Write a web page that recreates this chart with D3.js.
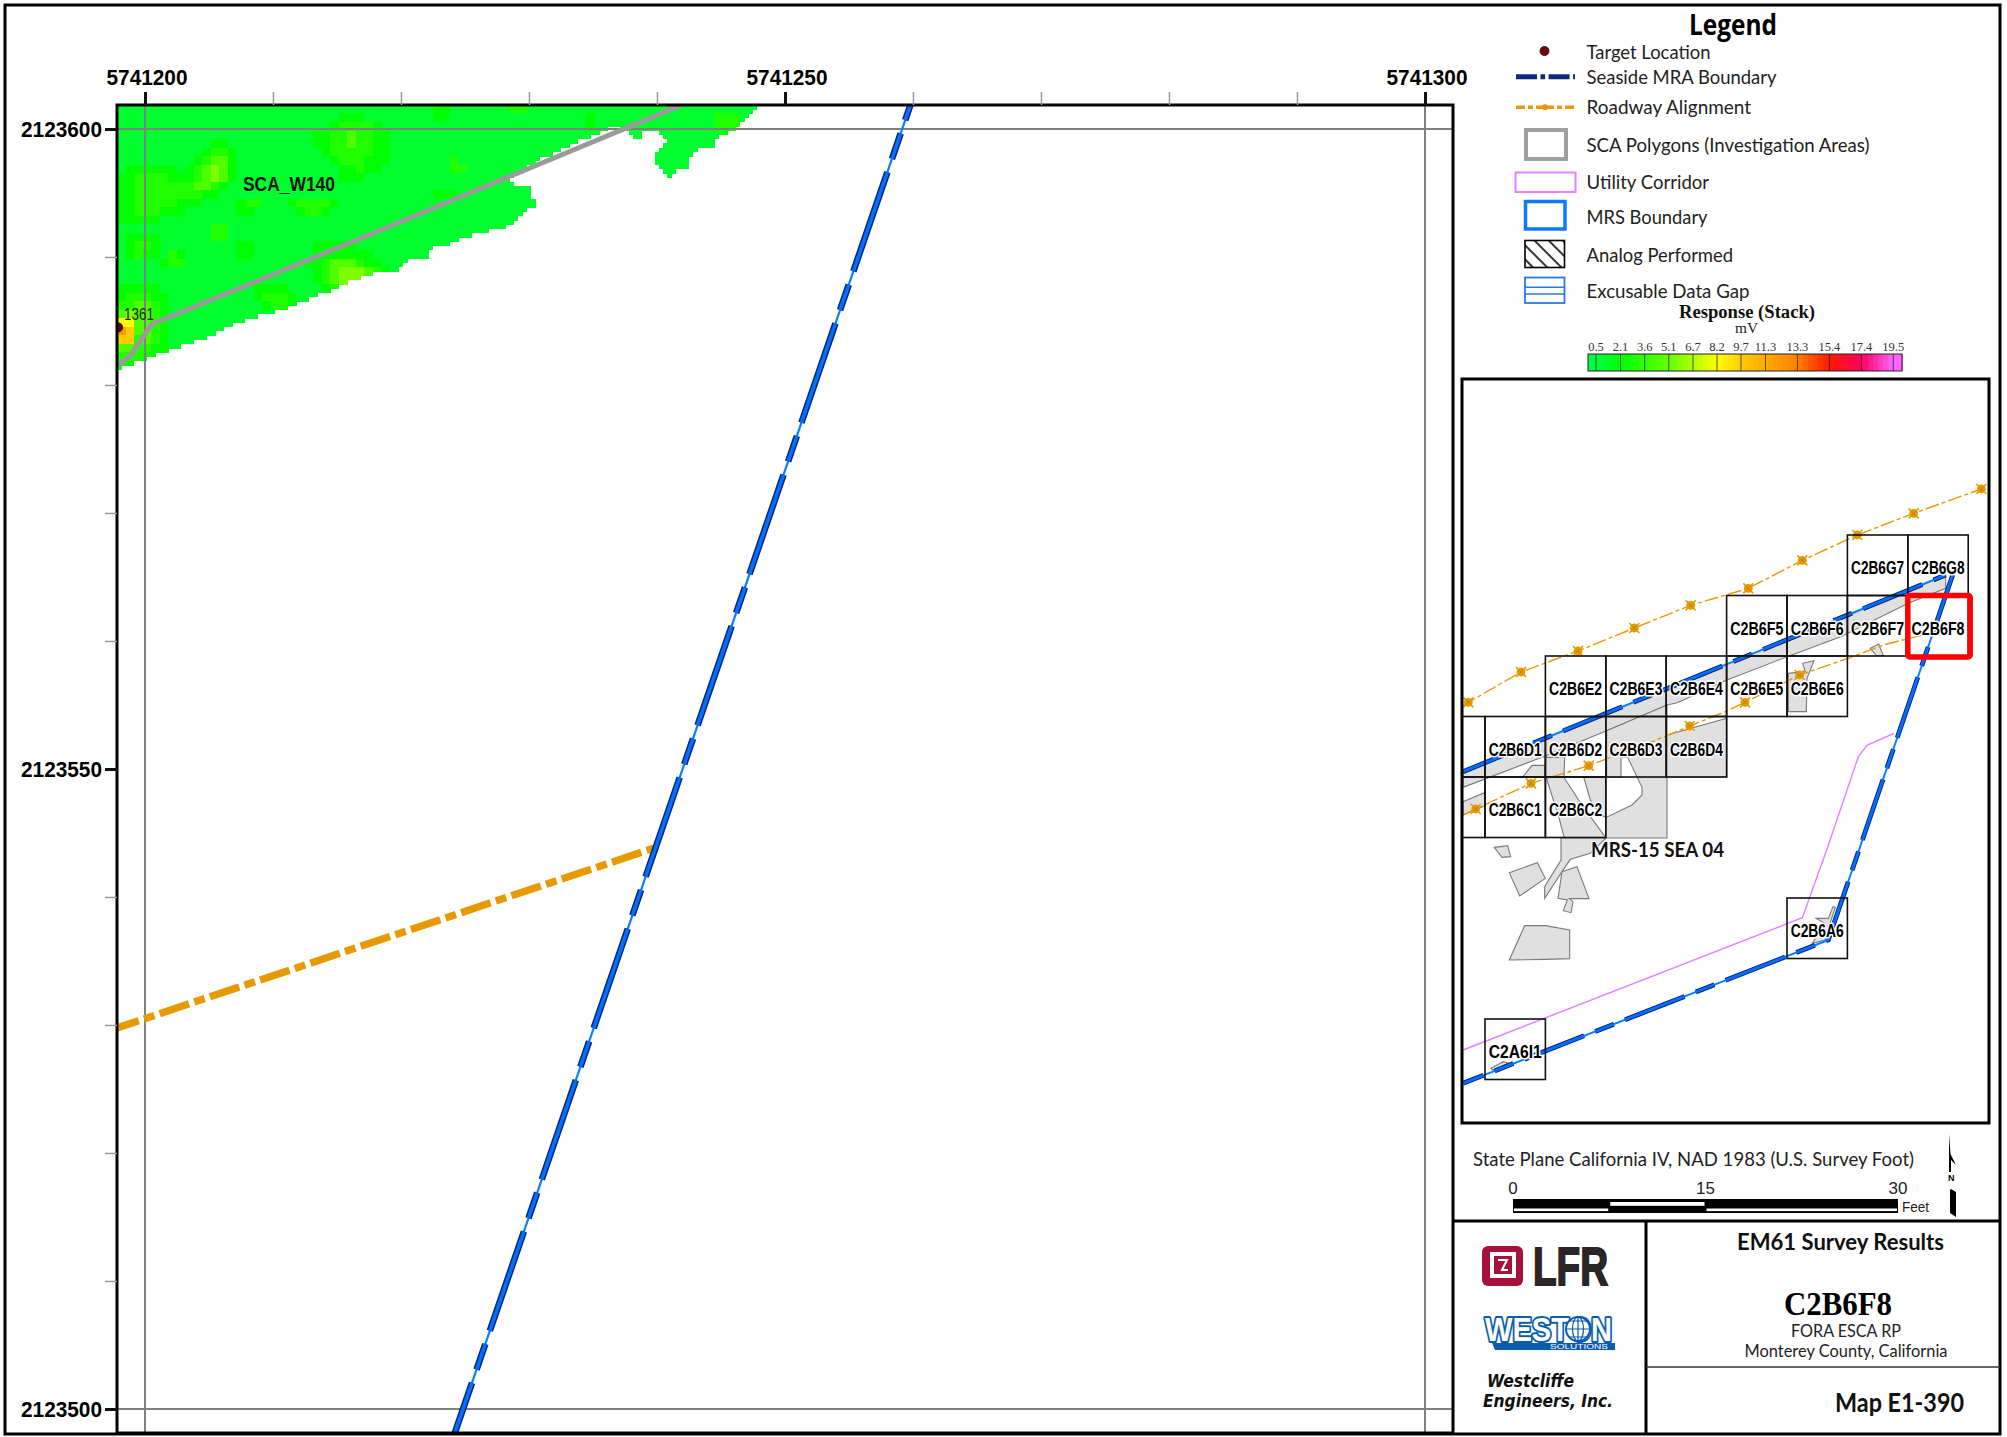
<!DOCTYPE html>
<html>
<head>
<meta charset="utf-8">
<title>Map E1-390</title>
<script src="https://cdn.jsdelivr.net/npm/d3@7"></script>
<style>
  html, body { margin: 0; background: #fff; }
  svg { display: block; }
</style>
</head>
<body>
<div id="map"></div>
<script>
// Main map coordinates: feet, as offsets from these two origins
const EAST0 = 5741200;
const NORTH0 = 2123500;

const eastMajor = [5741200, 5741250, 5741300];
const eastMinor = [5741210, 5741220, 5741230, 5741240, 5741260, 5741270, 5741280, 5741290];
const northMajor = [2123500, 2123550, 2123600];
const northMinor = [2123510, 2123520, 2123530, 2123540, 2123560, 2123570, 2123580, 2123590];

// Surveyed area outline (east, north offsets)
const coverage = [[-2.19,101.88],[47.81,101.88],[46.25,100.16],[45.55,99.69],[44.53,99.14],[44.38,98.52],[43.36,98.44],[42.58,97.73],[42.34,96.95],[41.25,96.64],[40.86,96.25],[40.39,96.8],[39.69,97.42],[39.69,97.97],[40.78,98.91],[40.08,99.84],[38.91,99.92],[38.91,99.14],[38.13,99.14],[37.73,99.92],[36.48,100.23],[35.55,99.69],[33.44,98.91],[30.86,97.66],[28.28,96.02],[29.3,95.55],[30.16,95.47],[30.16,94.69],[30.47,94.69],[30.47,94.06],[29.84,93.67],[29.3,93.05],[27.97,92.27],[26.02,91.88],[23.83,91.09],[22.42,90.7],[22.03,90],[20.47,89.92],[19.92,88.98],[18.2,88.83],[15.86,88.05],[14.3,87.34],[12.5,86.64],[10.7,85.86],[8.2,85.23],[6.25,84.53],[4.84,83.75],[2.58,82.97],[1.17,82.58],[0.78,82.19],[-0.63,81.8],[-1.41,81.56],[-2.11,81.25],[-2.19,81.25]];

// Response, one digit per 2/3 ft cell, north to south.
// Rows stop at the last non-background cell.
const responseRows = [
  "000000000000000000000000000000000000011000000022000000000000000000000000000111",
  "0000000000000000000000000011100000000110000000000000000100000000000000222",
  "0000000000000000000000000122221000000000000000000000000100000000000000222",
  "00000000000000000000000112232211000000000000000000000000000000000000000111",
  "00000000000110000000000112232211",
  "00000000001221000000000012222211",
  "0000000001233100000000000122211100000002",
  "01111110123431000000000000112110000000022",
  "11222211123431000000000000111",
  "1122222223321",
  "1122222222110000000000000000000000000111",
  "11222221110000122000122221",
  "1122211100000011000001221",
  "11111",
  "0000000000022",
  "0111100000022",
  "0122100000000011000000011111",
  "012110210000001100000001111111",
  "0000012200000000000000112333211",
  "00000000000000000000000123444321",
  "00000000000000000000000123444321",
  "11111000000000001111000012344321",
  "1222110000000000122210000012321",
  "223321000000000001221",
  "343321",
  "663321",
  "873321",
  "772321",
  "332211",
  "22211",
  "11"
];
const responseLevels = [1.0, 2.1, 3.0, 4.4, 5.6, 6.7, 8.2, 9.7, 12.0, 13.3];

// Colour key
const legendValues = [0.5, 2.1, 3.6, 5.1, 6.7, 8.2, 9.7, 11.3, 13.3, 15.4, 17.4, 19.5];
const legendLabels = ["0.5", "2.1", "3.6", "5.1", "6.7", "8.2", "9.7", "11.3", "13.3", "15.4", "17.4", "19.5"];
const legendColors = ["#00ff44", "#00ff00", "#33ff00", "#66ff00", "#b0ff00", "#ffff00", "#ffcc00", "#ffaa00", "#ff8000", "#ff1800", "#ff0060", "#ff66ff"];

const scaPolygon = [[41.93,101.88],[19.92,92.73],[9.53,88.44],[0.55,84.77],[-1.17,82.27],[-2.19,81.48]];
const mrsBoundary = [[59.8,101.88],[24.2,-1.88]];
const roadway = [[-2.19,29.77],[39.8,43.83]];
const target = { east: -2.1, north: 84.5, id: "1361" };

// Inset: tiles by column and row, other features in sheet units (1/3 of a picture pixel)
const tiles = [
  ["C2B6G7",6,0],["C2B6G8",7,0],
  ["C2B6F5",4,1],["C2B6F6",5,1],["C2B6F7",6,1],["C2B6F8",7,1],
  ["C2B6E2",1,2],["C2B6E3",2,2],["C2B6E4",3,2],["C2B6E5",4,2],["C2B6E6",5,2],
  ["",-1,3],["C2B6D1",0,3],["C2B6D2",1,3],["C2B6D3",2,3],["C2B6D4",3,3],
  ["",-1,4],["C2B6C1",0,4],["C2B6C2",1,4],
  ["C2B6A6",5,6],["C2A6I1",0,8]
];
const activeTile = "C2B6F8";
const grayAreas = [
  [[3,215],[1451,-375],[1451,-335],[1339,-290],[1136,-190],[976,-130],[795,-60],[646,8],[615,15],[434,92],[250,168],[3,262]],
  [[3,305],[68,278],[68,318],[3,345]],
  [[182,231],[210,196],[248,196],[248,231]],
  [[250,172],[308,172],[306,231],[250,231]],
  [[252,231],[305,231],[350,300],[385,350],[432,414],[307,414],[290,350]],
  [[365,231],[433,231],[433,352],[415,345],[385,300]],
  [[434,92],[615,15],[615,414],[433,414],[433,352],[510,315],[540,285],[540,262],[497,172],[477,172],[477,231],[434,231]],
  [[615,105],[795,55],[795,231],[615,231]],
  [[297,414],[432,414],[385,460],[325,478],[300,515],[248,595],[248,560],[297,480]],
  [[97,442],[137,437],[146,470],[120,472]],
  [[142,518],[226,488],[250,535],[173,588]],
  [[300,515],[345,500],[381,596],[322,596],[333,605],[327,638],[304,632],[316,600],[288,595]],
  [[188,677],[250,677],[323,690],[323,776],[250,778],[142,780]],
  [[979,-80],[1030,-85],[1022,-110],[1056,-118],[1035,-65],[1033,35],[979,35]],
  [[1225,-155],[1250,-168],[1264,-133],[1243,-133]],
  [[1062,655],[1099,655],[1113,620],[1120,622],[1104,670],[1099,718],[1051,730],[1088,670]],
  [[87,1105],[124,1085],[140,1090],[92,1110]]
];
const insetBoundaryNorth = [[3,215],[1451,-375]];
const insetBoundarySouth = [[1472,-375],[1099,720],[3,1150]];
const utilityCorridor = [[3,1050],[1021,653],[1094,450],[1189,170],[1216,135],[1296,100]];
const roadNorth = [[3,17],[19,7],[177,-84],[348,-147],[517,-216],[686,-284],[859,-335],[1021,-419],[1186,-495],[1355,-560],[1558,-633]];
const roadSouth = [[3,345],[41,327],[207,250],[380,197],[571,125],[683,78],[790,35],[849,7],[1013,-75],[1158,-125],[1264,-165],[1381,-195]];
const roadNorthMarkers = [[19,7],[177,-84],[348,-147],[517,-216],[686,-284],[859,-335],[1021,-419],[1186,-495],[1355,-560],[1558,-633]];
const roadSouthMarkers = [[41,327],[207,250],[380,197],[683,78],[849,7],[1013,-75]];

// Scale bar
const barBreaks = [0, 7.5, 15, 30];
const barLabels = [0, 15, 30];

const SANS = "'Liberation Sans', Arial, sans-serif";
const SERIF = "'Liberation Serif', 'Times New Roman', serif";
const HUMAN = "Lato, 'Open Sans', sans-serif";

const svg = d3.select("#map").append("svg").attr("width", 2007).attr("height", 1437);
const defs = svg.append("defs");

// scales of the main map
const x = d3.scaleLinear().domain([5741197.8125, 5741302.1875]).range([117, 1453]);
const y = d3.scaleLinear().domain([2123498.125, 2123601.875]).range([1433, 105]);
const ex = (e) => x(e + EAST0);
const ny = (n) => y(n + NORTH0);

defs.append("clipPath").attr("id", "map-clip")
  .append("rect").attr("x", 117).attr("y", 105).attr("width", 1336).attr("height", 1328);

const ramp = d3.scaleLinear().domain(legendValues).range(legendColors).clamp(true);

// helper for text that has to span a set width
function label(parent, str, px, py, opts) {
  const t = parent.append("text")
    .attr("x", px).attr("y", py)
    .attr("font-family", opts.family || HUMAN)
    .attr("font-size", opts.size)
    .attr("font-weight", opts.weight || "normal")
    .attr("font-style", opts.style || "normal")
    .attr("fill", opts.fill || "#1a1a1a")
    .text(str);
  if (opts.width) t.attr("textLength", opts.width).attr("lengthAdjust", "spacingAndGlyphs");
  if (opts.anchor) t.attr("text-anchor", opts.anchor);
  return t;
}

// ---- Main map ----
const mapClip = svg.append("g").attr("clip-path", "url(#map-clip)");

// raster: 1/3 ft cells inside the surveyed outline
const cell = 1 / 3;
const raster = mapClip.append("g").attr("shape-rendering", "crispEdges");
const cells = [];
for (let j = 0; j < 64; j++) {
  for (let i = 0; i < 152; i++) {
    const e = -2.19 + i * cell;
    const n = 101.88 - j * cell;
    if (!d3.polygonContains(coverage, [e + cell / 2, n - cell / 2])) continue;
    const row = responseRows[Math.floor(j / 2)] || "";
    const level = +(row[Math.floor(i / 2)] || 0);
    cells.push({ e, n, value: responseLevels[level] });
  }
}
raster.selectAll("rect").data(cells).join("rect")
  .attr("x", (d) => ex(d.e))
  .attr("y", (d) => ny(d.n))
  .attr("width", ex(cell) - ex(0) + 0.4)
  .attr("height", ny(0) - ny(cell) + 0.4)
  .attr("fill", (d) => ramp(d.value));

// target
mapClip.append("circle")
  .attr("cx", ex(target.east)).attr("cy", ny(target.north)).attr("r", 4.5)
  .attr("fill", "#7a0000").attr("stroke", "#111").attr("stroke-width", 1);

// grid lines through the labelled ticks
const gridG = mapClip.append("g").attr("stroke", "#808080").attr("stroke-width", 2);
gridG.selectAll("line.v").data([5741200, 5741300]).join("line").attr("class", "v")
  .attr("x1", (d) => x(d)).attr("x2", (d) => x(d)).attr("y1", 105).attr("y2", 1433);
gridG.selectAll("line.h").data([2123500, 2123600]).join("line").attr("class", "h")
  .attr("y1", (d) => y(d)).attr("y2", (d) => y(d)).attr("x1", 117).attr("x2", 1453);

const lineFeet = d3.line().x((d) => ex(d[0])).y((d) => ny(d[1]));

mapClip.append("path").attr("d", lineFeet(scaPolygon))
  .attr("fill", "none").attr("stroke", "#9a9a9a").attr("stroke-width", 5).attr("stroke-linejoin", "round");

mapClip.append("path").attr("d", lineFeet(roadway))
  .attr("fill", "none").attr("stroke", "#e69a00").attr("stroke-width", 7.4)
  .attr("stroke-dasharray", "31 5.5 11 5.5").attr("stroke-dashoffset", 8);

// boundary: thin MRS line under the dashed MRA line
mapClip.append("path").attr("d", lineFeet(mrsBoundary))
  .attr("fill", "none").attr("stroke", "#0a80ff").attr("stroke-width", 2.2);
mapClip.append("path").attr("d", lineFeet(mrsBoundary))
  .attr("fill", "none").attr("stroke", "#0a2478").attr("stroke-width", 6.6)
  .attr("stroke-dasharray", "105 14 27 14").attr("stroke-dashoffset", 89);
mapClip.append("path").attr("d", lineFeet(mrsBoundary))
  .attr("fill", "none").attr("stroke", "#0070ff").attr("stroke-width", 3.6)
  .attr("stroke-dasharray", "105 14 27 14").attr("stroke-dashoffset", 89);

label(svg, target.id, 124, 320, { family: SANS, size: 17, width: 30, fill: "#222" });
label(svg, "SCA_W140", 243, 191, { family: SANS, size: 21, weight: "bold", width: 92, fill: "#111" });

// frame
svg.append("rect").attr("x", 117).attr("y", 105).attr("width", 1336).attr("height", 1328)
  .attr("fill", "none").attr("stroke", "#000").attr("stroke-width", 3);

// axes
function styleTicks(g, stroke, width) {
  g.select(".domain").remove();
  g.selectAll(".tick line").attr("stroke", stroke).attr("stroke-width", width);
  g.selectAll(".tick text")
    .attr("font-family", SANS).attr("font-size", 22).attr("font-weight", "bold").attr("fill", "#000")
    .attr("textLength", 81).attr("lengthAdjust", "spacingAndGlyphs");
}
svg.append("g").attr("transform", "translate(0,105)")
  .call(d3.axisTop(x).tickValues(eastMinor).tickSize(13).tickFormat(""))
  .call((g) => styleTicks(g, "#999", 1.5));
svg.append("g").attr("transform", "translate(117,0)")
  .call(d3.axisLeft(y).tickValues(northMinor).tickSize(12).tickFormat(""))
  .call((g) => styleTicks(g, "#999", 1.5));
svg.append("g").attr("transform", "translate(0,105)")
  .call(d3.axisTop(x).tickValues(eastMajor).tickSize(13).tickPadding(7).tickFormat(d3.format("d")))
  .call((g) => styleTicks(g, "#111", 3))
  .call((g) => g.selectAll(".tick text").attr("dx", 1.5));
svg.append("g").attr("transform", "translate(117,0)")
  .call(d3.axisLeft(y).tickValues(northMajor).tickSize(12).tickPadding(3).tickFormat(d3.format("d")))
  .call((g) => styleTicks(g, "#111", 3));

// ---- Sheet frame and title block ----
const frame = svg.append("g").attr("fill", "none").attr("stroke", "#000");
frame.append("rect").attr("x", 5).attr("y", 5).attr("width", 1995).attr("height", 1429).attr("stroke-width", 3);
frame.append("line").attr("x1", 1453).attr("x2", 2000).attr("y1", 1221).attr("y2", 1221).attr("stroke-width", 3);
frame.append("line").attr("x1", 1646).attr("x2", 1646).attr("y1", 1221).attr("y2", 1433).attr("stroke-width", 3);
frame.append("line").attr("x1", 1646).attr("x2", 2000).attr("y1", 1367).attr("y2", 1367).attr("stroke-width", 1.5).attr("stroke", "#333");

// ---- Legend ----
const legend = svg.append("g");
label(legend, "Legend", 1689, 35, { family: "'Open Sans', sans-serif", size: 29, weight: "bold", width: 88, fill: "#000" });
const legendItems = [
  ["Target Location", 59.3, 124], ["Seaside MRA Boundary", 84, 190], ["Roadway Alignment", 114.3, 164.5],
  ["SCA Polygons (Investigation Areas)", 152.3, 283], ["Utility Corridor", 189.3, 122.6], ["MRS Boundary", 224, 121],
  ["Analog Performed", 262.3, 146.6], ["Excusable Data Gap", 298.3, 163]
];
legendItems.forEach((d) => label(legend, d[0], 1586.5, d[1], { size: 19, width: d[2], fill: "#222" }));

legend.append("circle").attr("cx", 1544.5).attr("cy", 51).attr("r", 4.5).attr("fill", "#7a0000").attr("stroke", "#222");
legend.append("line").attr("x1", 1516).attr("x2", 1575).attr("y1", 76.7).attr("y2", 76.7)
  .attr("stroke", "#0b2a80").attr("stroke-width", 5).attr("stroke-dasharray", "21 3.5 4.6 3.5");
legend.append("line").attr("x1", 1516).attr("x2", 1575).attr("y1", 107.3).attr("y2", 107.3)
  .attr("stroke", "#e69a00").attr("stroke-width", 3.6).attr("stroke-dasharray", "9 3 5 3 18 3 5 3 9");
legend.append("circle").attr("cx", 1545).attr("cy", 107.3).attr("r", 3).attr("fill", "#e69a00");
legend.append("rect").attr("x", 1526).attr("y", 130).attr("width", 40).attr("height", 29)
  .attr("fill", "#fff").attr("stroke", "#a0a0a0").attr("stroke-width", 4);
legend.append("rect").attr("x", 1515.5).attr("y", 172.5).attr("width", 60).attr("height", 19.5)
  .attr("fill", "#fff").attr("stroke", "#e680ff").attr("stroke-width", 2);
legend.append("rect").attr("x", 1525.5).attr("y", 201.5).attr("width", 39.5).attr("height", 27.5)
  .attr("fill", "#fff").attr("stroke", "#0a78ff").attr("stroke-width", 3.5);

const hatch = defs.append("pattern").attr("id", "hatch").attr("patternUnits", "userSpaceOnUse")
  .attr("width", 10).attr("height", 10).attr("patternTransform", "rotate(45)");
hatch.append("line").attr("x1", 0).attr("x2", 10).attr("y1", 5).attr("y2", 5).attr("stroke", "#000").attr("stroke-width", 1.6);
legend.append("rect").attr("x", 1525).attr("y", 240.5).attr("width", 39.5).attr("height", 27)
  .attr("fill", "url(#hatch)").attr("stroke", "#000").attr("stroke-width", 1.6);
legend.append("rect").attr("x", 1525).attr("y", 277.5).attr("width", 39.5).attr("height", 25.5)
  .attr("fill", "#fff").attr("stroke", "#2a78e8").attr("stroke-width", 1.8);
legend.selectAll("line.gap").data([287.3, 294]).join("line").attr("class", "gap")
  .attr("x1", 1525).attr("x2", 1564.5).attr("y1", (d) => d).attr("y2", (d) => d)
  .attr("stroke", "#2a78e8").attr("stroke-width", 1.6);

label(legend, "Response (Stack)", 1679, 318.3, { family: SERIF, size: 18, weight: "bold", width: 136, fill: "#111" });
label(legend, "mV", 1735, 333, { family: SERIF, size: 15, width: 23, fill: "#222" });

// colour bar, piecewise because the classes are not evenly spaced
const barX = d3.scaleLinear()
  .domain([0, ...legendValues, 20.1])
  .range([1588, 1596, 1620.5, 1644.7, 1668.8, 1693, 1717, 1741, 1765.5, 1797.4, 1829.4, 1861.4, 1893.3, 1902]);
const barStrips = d3.range(1588, 1902, 5);
legend.append("g").attr("shape-rendering", "crispEdges").selectAll("rect").data(barStrips).join("rect")
  .attr("x", (d) => d).attr("y", 354).attr("width", 5.3).attr("height", 17)
  .attr("fill", (d) => ramp(barX.invert(d + 2.5)));
legend.selectAll("line.div").data(legendValues).join("line").attr("class", "div")
  .attr("x1", (d) => barX(d)).attr("x2", (d) => barX(d)).attr("y1", 354).attr("y2", 371)
  .attr("stroke", "#222").attr("stroke-opacity", 0.75).attr("stroke-width", 1);
legend.append("rect").attr("x", 1588).attr("y", 354).attr("width", 314).attr("height", 17)
  .attr("fill", "none").attr("stroke", "#222").attr("stroke-width", 1);
legend.selectAll("text.tk").data(legendValues).join("text").attr("class", "tk")
  .attr("x", (d) => barX(d)).attr("y", 350.7).attr("text-anchor", "middle")
  .attr("font-family", SERIF).attr("font-size", 12.5).attr("fill", "#333")
  .text((d, i) => legendLabels[i]);

// ---- Inset map ----
const insetX = d3.scaleLinear().domain([0, 1581]).range([1462, 1989]);
const insetY = d3.scaleLinear().domain([0, 840]).range([700, 980]);
const tileX = d3.scaleLinear().domain([0, 1]).range([1485, 1545.4]);
const tileY = d3.scaleLinear().domain([0, 1]).range([535, 595.5]);
const lineInset = d3.line().x((d) => insetX(d[0])).y((d) => insetY(d[1]));

defs.append("clipPath").attr("id", "inset-clip")
  .append("rect").attr("x", 1462).attr("y", 378).attr("width", 527).attr("height", 745);
const inset = svg.append("g").attr("clip-path", "url(#inset-clip)");

inset.selectAll("path.area").data(grayAreas).join("path").attr("class", "area")
  .attr("d", (d) => lineInset(d) + "Z")
  .attr("fill", "#e0e0e0").attr("stroke", "#7a7a7a").attr("stroke-width", 1.1);

inset.append("path").attr("d", lineInset(utilityCorridor))
  .attr("fill", "none").attr("stroke", "#e07fff").attr("stroke-width", 1.4);

[roadNorth, roadSouth].forEach((road) => {
  inset.append("path").attr("d", lineInset(road))
    .attr("fill", "none").attr("stroke", "#e69a00").attr("stroke-width", 1.4)
    .attr("stroke-dasharray", "14 3 4 3");
});
// road stations: a blob with a small cross over it
const marks = inset.selectAll("g.mark").data(roadNorthMarkers.concat(roadSouthMarkers)).join("g").attr("class", "mark")
  .attr("transform", (d) => `translate(${insetX(d[0])},${insetY(d[1])})`);
marks.append("path").attr("d", "M-5,-5 L5,5 M-5,5 L5,-5").attr("stroke", "#e69a00").attr("stroke-width", 1.6);
marks.append("circle").attr("r", 4.4).attr("fill", "#e69a00");
marks.append("path").attr("d", "M-2,-2 L2,2 M-2,2 L2,-2").attr("stroke", "#b87c00").attr("stroke-width", 0.9);

[insetBoundaryNorth, insetBoundarySouth].forEach((b) => {
  inset.append("path").attr("d", lineInset(b)).attr("fill", "none")
    .attr("stroke", "#0a80ff").attr("stroke-width", 2).attr("stroke-linejoin", "round");
  inset.append("path").attr("d", lineInset(b)).attr("fill", "none")
    .attr("stroke", "#0a2478").attr("stroke-width", 4.8).attr("stroke-dasharray", "64 12 20 12");
  inset.append("path").attr("d", lineInset(b)).attr("fill", "none")
    .attr("stroke", "#0070ff").attr("stroke-width", 2.8).attr("stroke-dasharray", "64 12 20 12");
});

inset.selectAll("rect.tile").data(tiles).join("rect").attr("class", "tile")
  .attr("x", (d) => tileX(d[1])).attr("y", (d) => tileY(d[2]))
  .attr("width", tileX(1) - tileX(0)).attr("height", tileY(1) - tileY(0))
  .attr("fill", "none").attr("stroke", "#111").attr("stroke-width", 1.6);

inset.selectAll("text.tile").data(tiles.filter((d) => d[0])).join("text").attr("class", "tile")
  .attr("x", (d) => tileX(d[1] + 0.5) - 26.5).attr("y", (d) => tileY(d[2] + 0.5) + 9)
  .attr("font-family", SANS).attr("font-size", 18).attr("font-weight", "bold").attr("fill", "#000")
  .attr("textLength", 53).attr("lengthAdjust", "spacingAndGlyphs")
  .attr("paint-order", "stroke").attr("stroke", "#fff").attr("stroke-width", 3).attr("stroke-linejoin", "round")
  .text((d) => d[0]);

// selected tile
const active = tiles.find((d) => d[0] === activeTile);
inset.append("rect")
  .attr("x", tileX(active[1])).attr("y", tileY(active[2]))
  .attr("width", tileX(1) - tileX(0) + 2).attr("height", tileY(1) - tileY(0) + 1)
  .attr("rx", 2).attr("fill", "none").attr("stroke", "#ff0000").attr("stroke-width", 5.5);

label(inset, "MRS-15 SEA 04", 1591, 857.3, { size: 21, weight: "bold", width: 133, fill: "#111" })
  .attr("paint-order", "stroke").attr("stroke", "#fff").attr("stroke-width", 2);

svg.append("rect").attr("x", 1462).attr("y", 379).attr("width", 527).attr("height", 744)
  .attr("fill", "none").attr("stroke", "#000").attr("stroke-width", 3);

// ---- Projection note, scale bar, north arrow ----
label(svg, "State Plane California IV, NAD 1983 (U.S. Survey Foot)", 1473, 1166, { size: 19, width: 441, fill: "#222" });

const barScale = d3.scaleLinear().domain([0, 30]).range([1513, 1898]);
svg.append("rect").attr("x", barScale(0)).attr("y", 1199).attr("width", barScale(30) - barScale(0)).attr("height", 14).attr("fill", "#000");
d3.pairs(barBreaks).forEach((p, i) => {
  svg.append("rect")
    .attr("x", barScale(p[0]) + 1).attr("width", barScale(p[1]) - barScale(p[0]) - 2)
    .attr("y", i === 1 ? 1202 : 1208.5).attr("height", i === 1 ? 3.8 : 2.6)
    .attr("fill", "#fff");
});
svg.selectAll("text.bar").data(barLabels).join("text").attr("class", "bar")
  .attr("x", (d) => barScale(d)).attr("y", 1194).attr("text-anchor", "middle")
  .attr("font-family", SANS).attr("font-size", 17).attr("fill", "#222")
  .text((d) => d);
label(svg, "Feet", 1902, 1212, { family: SANS, size: 15, width: 27, fill: "#222" });

svg.append("path").attr("d", "M1949,1134 L1950.5,1154 L1956,1165 L1951,1160 L1951,1172 L1949,1172 Z").attr("fill", "#000");
svg.append("path").attr("d", "M1951,1189 L1956,1192 L1956,1217 L1950,1213 L1950,1190 Z").attr("fill", "#000");
label(svg, "N", 1948, 1181, { family: SANS, size: 9, weight: "bold", fill: "#000" });

// ---- Logos ----
const logos = svg.append("g");
logos.append("rect").attr("x", 1482).attr("y", 1246).attr("width", 41).attr("height", 40).attr("rx", 6).attr("fill", "#a6113c");
logos.append("path")
  .attr("d", "M1490,1252 L1516,1252 L1516,1278 L1490,1278 Z M1494,1256 L1494,1274 L1512,1274 L1512,1256 Z")
  .attr("fill", "#fff").attr("fill-rule", "evenodd");
logos.append("path").attr("d", "M1498,1260 L1507,1260 L1502,1270 L1508,1270").attr("fill", "none").attr("stroke", "#fff").attr("stroke-width", 2);
label(logos, "LFR", 1533, 1285, { family: SANS, size: 54, weight: "bold", width: 75, fill: "#2a2626" })
  .attr("stroke", "#2a2626").attr("stroke-width", 2);

logos.append("path").attr("d", "M1492,1343 L1615,1343 L1615,1350 L1495,1350 Z").attr("fill", "#0b5cad");
label(logos, "SOLUTIONS", 1550, 1349.4, { family: SANS, size: 7, width: 58, fill: "#fff" });
label(logos, "WESTON", 1485, 1341, { family: SANS, size: 33, weight: "bold", width: 127, fill: "#fff" })
  .attr("stroke", "#0b5cad").attr("stroke-width", 4).attr("paint-order", "stroke").attr("stroke-linejoin", "round");
logos.append("circle").attr("cx", 1578).attr("cy", 1329).attr("r", 12).attr("fill", "#fff").attr("stroke", "#0b5cad").attr("stroke-width", 2);
logos.append("path").attr("d", "M1566,1329 H1590 M1578,1317 V1341 M1569,1321 H1587 M1569,1337 H1587").attr("stroke", "#0b5cad").attr("stroke-width", 1.2);
logos.append("ellipse").attr("cx", 1578).attr("cy", 1329).attr("rx", 5.5).attr("ry", 12).attr("fill", "none").attr("stroke", "#0b5cad").attr("stroke-width", 1.2);

label(logos, "Westcliffe", 1487, 1386.7, { family: "'DejaVu Sans', sans-serif", size: 17, weight: "bold", style: "italic", width: 87, fill: "#111" });
label(logos, "Engineers, Inc.", 1483, 1406.7, { family: "'DejaVu Sans', sans-serif", size: 17, weight: "bold", style: "italic", width: 130, fill: "#111" });

// ---- Title block ----
label(svg, "EM61 Survey Results", 1737, 1250, { size: 23, weight: "bold", width: 207, fill: "#111" });
label(svg, "C2B6F8", 1784, 1315, { family: SERIF, size: 33, weight: "bold", width: 108, fill: "#000" });
label(svg, "FORA ESCA RP", 1791, 1337, { size: 18, width: 110, fill: "#222" });
label(svg, "Monterey County, California", 1744.5, 1357, { size: 18, width: 203, fill: "#222" });
label(svg, "Map E1-390", 1835, 1411.7, { size: 26, weight: "bold", width: 129, fill: "#111" });
</script>
</body>
</html>
